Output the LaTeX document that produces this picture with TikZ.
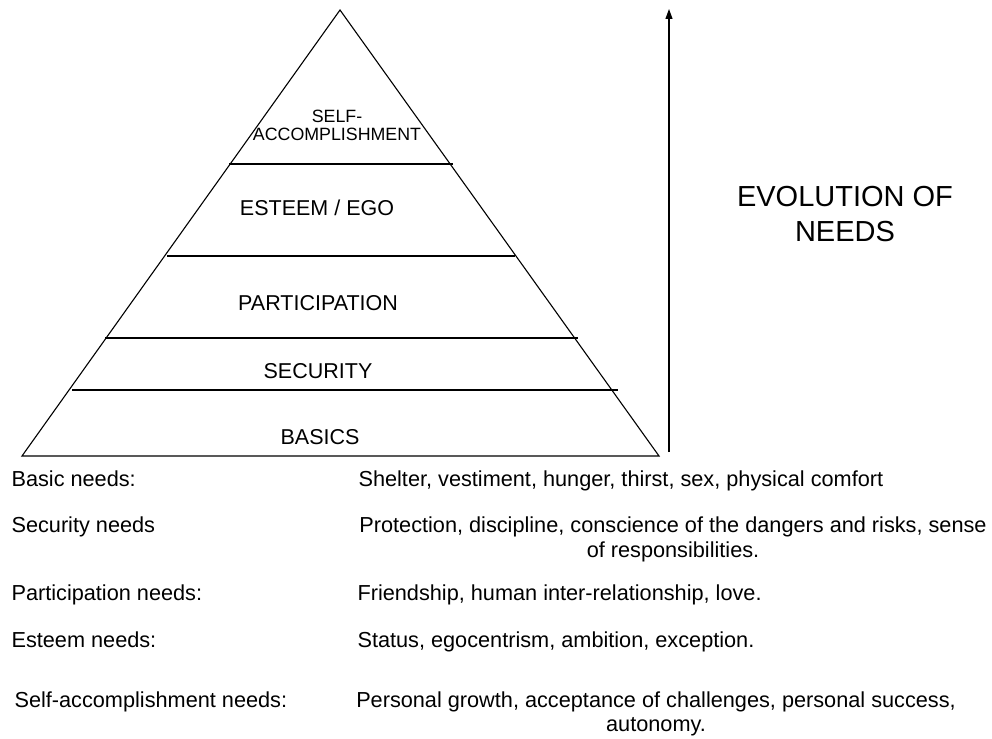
\documentclass[tikz,border=0pt]{standalone}
\usepackage{fontspec}
\setmainfont{Liberation Sans}
\usetikzlibrary{arrows.meta}
\begin{document}
\begin{tikzpicture}[x=1pt,y=-1pt,line width=1.1pt,
  lbl/.style={inner sep=0pt,font=\fontsize{21.5}{24}\selectfont,anchor=base},
  toplbl/.style={inner sep=0pt,font=\fontsize{17.8}{17}\selectfont,anchor=base},
  evo/.style={inner sep=0pt,font=\fontsize{29}{32}\selectfont,anchor=base},
  txt/.style={inner sep=0pt,font=\fontsize{21.7}{24}\selectfont,anchor=base west},
  ctxt/.style={inner sep=0pt,font=\fontsize{21.7}{24}\selectfont,anchor=base},
  tier/.style={line width=1.1pt},
  evoarrow/.style={line width=1.1pt,-{Triangle[width=7pt,length=10pt]}}]
\useasboundingbox (0,0) rectangle (992,738);
% pyramid
\coordinate (apex) at (340,10);
\coordinate (bl) at (22,456);
\coordinate (br) at (659,456);
\draw (bl) -- (apex) -- (br) -- cycle;
% tier separators
\coordinate (s1l) at (229,164); \coordinate (s1r) at (453,164);
\coordinate (s2l) at (167,256); \coordinate (s2r) at (515,256);
\coordinate (s3l) at (105,338); \coordinate (s3r) at (578,338);
\coordinate (s4l) at (72,390);  \coordinate (s4r) at (618,390);
\draw[tier] (s1l) -- (s1r);
\draw[tier] (s2l) -- (s2r);
\draw[tier] (s3l) -- (s3r);
\draw[tier] (s4l) -- (s4r);
% tier labels
\node[toplbl] (self1) at (337,123) {SELF-};
\node[toplbl] (self2) at (337,141) {ACCOMPLISHMENT};
\node[lbl] (esteem) at (317,215) {ESTEEM / EGO};
\node[lbl] (part) at (318,310) {PARTICIPATION};
\node[lbl] (secu) at (318,378) {SECURITY};
\node[lbl] (basics) at (320,444) {BASICS};
% evolution arrow
\coordinate (abot) at (669,452);
\coordinate (atop) at (669,9);
\draw[evoarrow] (abot) -- (atop);
\node[evo] (evo1) at (845,206) {EVOLUTION OF};
\node[evo] (evo2) at (845,241) {NEEDS};
% descriptions
\node[txt] (basicL) at (11,486) {Basic needs:};
\node[txt] (basicR) at (358,486) {Shelter, vestiment, hunger, thirst, sex, physical comfort};
\node[txt] (secL) at (11,532) {Security needs};
\node[ctxt] (secR1) at (673,532) {Protection, discipline, conscience of the dangers and risks, sense};
\node[ctxt] (secR2) at (673,557) {of responsibilities.};
\node[txt] (partL) at (11,600) {Participation needs:};
\node[txt] (partR) at (357,600) {Friendship, human inter-relationship, love.};
\node[txt] (estL) at (11,647) {Esteem needs:};
\node[txt] (estR) at (357,647) {Status, egocentrism, ambition, exception.};
\node[txt] (selfL) at (14,707) {Self-accomplishment needs:};
\node[ctxt] (selfR1) at (656,707) {Personal growth, acceptance of challenges, personal success,};
\node[ctxt] (selfR2) at (656,731) {autonomy.};
\end{tikzpicture}
\end{document}
